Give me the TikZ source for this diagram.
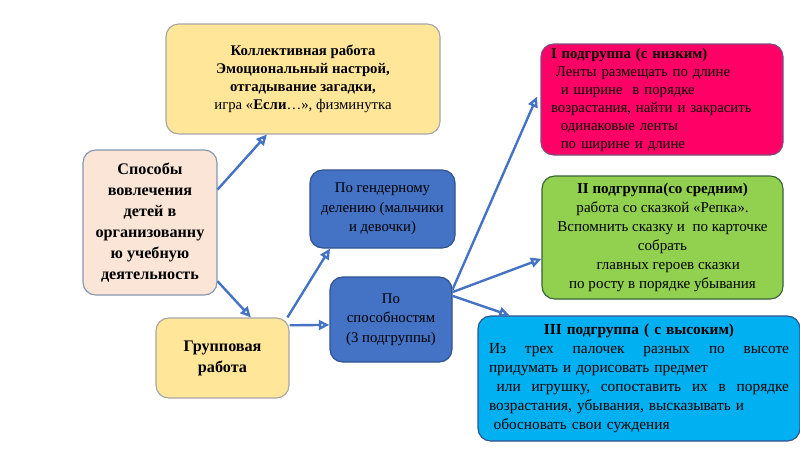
\documentclass[tikz,border=0pt]{standalone}
\usepackage{fontspec}
\setmainfont{Liberation Serif}
\usetikzlibrary{arrows.meta,positioning}

\definecolor{goldfill}{HTML}{FFE699}
\definecolor{peachfill}{HTML}{FBE5D6}
\definecolor{peachline}{HTML}{8497B0}
\definecolor{bluefill}{HTML}{4472C4}
\definecolor{blueline}{HTML}{2F528F}
\definecolor{pinkfill}{HTML}{FF0066}
\definecolor{greenfill}{HTML}{92D050}
\definecolor{cyanfill}{HTML}{00B0F0}
\definecolor{arrowblue}{HTML}{4472C4}

\begin{document}
\begin{tikzpicture}[
  box/.style={draw, rounded corners=9pt, line width=0.8pt, align=center, inner sep=2pt},
  link/.style={draw=arrowblue, line width=1.7pt, -{Triangle[open,length=7.5pt,width=7pt]}},
  font=\fontsize{10.5}{12.8}\selectfont
]
  \useasboundingbox (0,0) rectangle (20,-11.25);

  % left column
  \node[box, fill=peachfill, draw=peachline, minimum width=3.35cm, minimum height=3.625cm,
        font=\fontsize{11.5}{15}\selectfont\bfseries] (ways) at (3.75,-5.5625)
    {Способы\\ вовлечения\\ детей в\\ организованну\\ ю учебную\\ деятельность};
  \node[box, fill=goldfill, draw=gray!70, minimum width=3.325cm, minimum height=2cm,
        font=\fontsize{11.5}{15}\selectfont\bfseries] (group) at (5.5625,-8.95)
    {Групповая\\ работа};
  \node[box, fill=goldfill, draw=gray!70, minimum width=6.85cm, minimum height=2.75cm] (work) at (7.575,-1.975)
    {\textbf{Коллективная работа}\\ \textbf{Эмоциональный настрой,}\\ \textbf{отгадывание загадки,}\\
     игра «\textbf{Если}…», физминутка};

  % middle column
  \node[box, fill=bluefill, draw=blueline, minimum width=3.625cm, minimum height=1.95cm,
        font=\fontsize{10.5}{13.8}\selectfont] (gender) at (9.5625,-5.225)
    {По гендерному\\ делению (мальчики\\ и девочки)};
  \node[box, fill=bluefill, draw=blueline, minimum width=3.05cm, minimum height=2.125cm,
        font=\fontsize{10.5}{13.8}\selectfont] (ability) at (9.775,-7.9875)
    {По\\ способностям\\ (3 подгруппы)};

  % right column
  \node[box, fill=pinkfill, draw=gray!60!violet, align=left, text width=5.55cm, inner xsep=0.25cm,
        minimum height=2.775cm] (low) at (16.55,-2.4875)
    {\textbf{I подгруппа (с низким)}\\ \ Ленты размещать по длине\\ \ \ и ширине\ \ в порядке\\
     возрастания, найти и закрасить\\ \ \ одинаковые ленты\\ \ \ по ширине и длине};
  \node[box, fill=greenfill, draw=gray!70!green!60!black, minimum width=6.025cm, minimum height=3.075cm,
        font=\fontsize{10.7}{13.6}\selectfont] (mid) at (16.5625,-5.9375)
    {\textbf{II подгруппа(со средним)}\\ работа со сказкой «Репка».\\ Вспомнить сказку и\ \ по карточке\\
     собрать\\ \ \ \ главных героев сказки\\ по росту в порядке убывания};
  \node[box, fill=cyanfill, draw=blueline, align=left, text width=7.5cm, inner xsep=0.275cm,
        minimum height=3.125cm, font=\fontsize{10.9}{13.6}\selectfont] (high) at (15.975,-9.4625)
    {\makebox[7.5cm][c]{\textbf{III подгруппа ( с высоким)}}\\
     \makebox[7.5cm][l]{Из\hfill трех\hfill палочек\hfill разных\hfill по\hfill высоте}\\
     придумать и дорисовать предмет\\
     \makebox[7.5cm][l]{\hspace*{0.5em}или\hfill игрушку,\hfill сопоставить\hfill их\hfill в\hfill порядке}\\
     возрастания, убывания, высказывать и\\
     \hspace*{0.3em}обосновать свои суждения};

  % connectors
  \draw[link] (ways.26) -- (work.237);
  \draw[link] (ways.-41) -- (group.55);
  \draw[link] (group.32) -- (gender.217);
  \draw[link] (group.26) -- (ability.185);
  \draw[link, shorten >=6pt] (ability.26) -- (low.175);
  \draw[link] (ability.24) -- (mid.190);
  \draw[link] (ability.21) -- (high.154);
\end{tikzpicture}
\end{document}
